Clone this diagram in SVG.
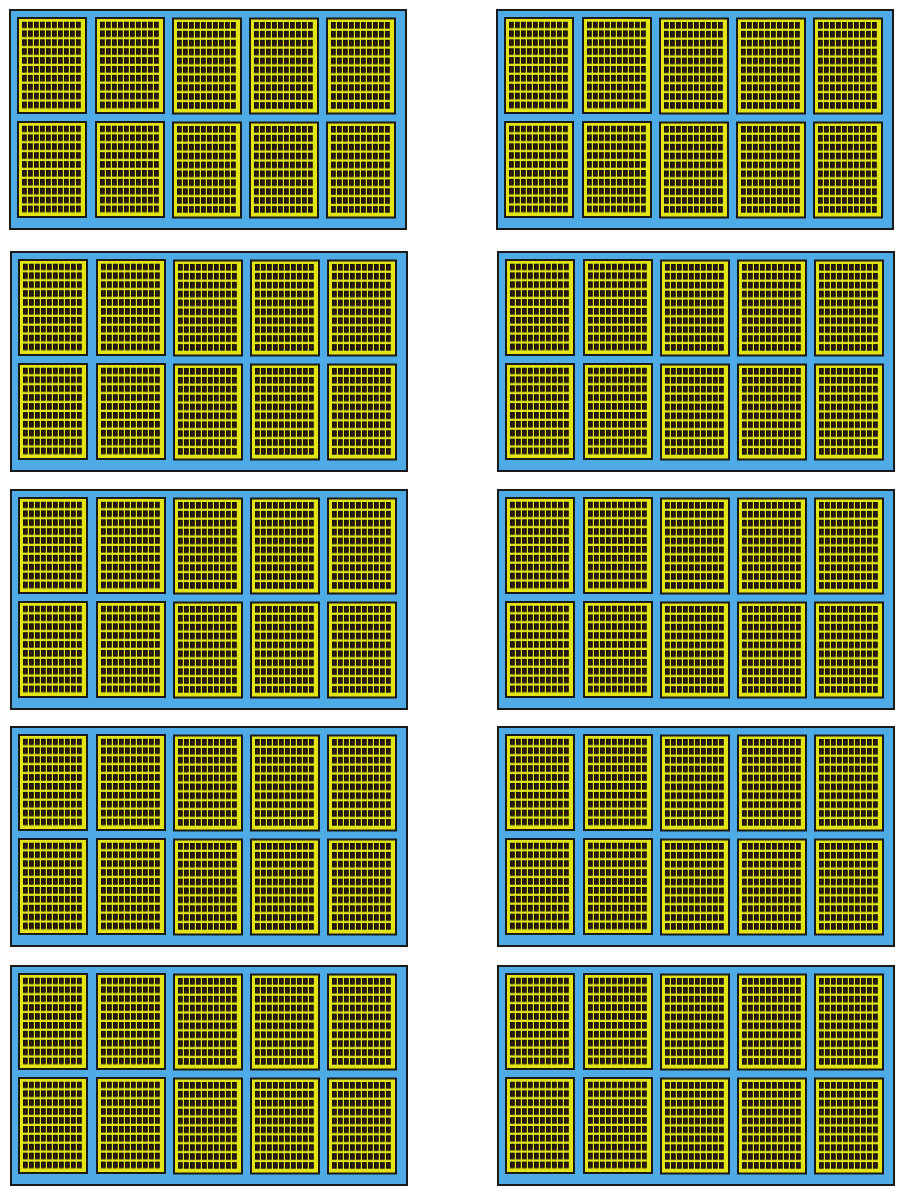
<svg xmlns="http://www.w3.org/2000/svg" xmlns:xlink="http://www.w3.org/1999/xlink" width="905" height="1196" viewBox="0 0 905 1196">
<style>
.panel{fill:#4eabe6;stroke:#1a1a1a;stroke-width:2}
.card{fill:#e3e414;stroke:#1a1a1a;stroke-width:2}
</style>
<defs>
<pattern id="cells" patternUnits="userSpaceOnUse" x="4" y="3.5" width="6" height="8.9">
<rect x="0" y="0" width="4.8" height="6.6" fill="#16140e"/>
<rect x="1.9" y="1.6" width="1" height="3.4" fill="#5a1818"/>
</pattern>
<g id="card">
<rect class="card" x="0" y="0" width="68" height="95"/>
<rect x="4" y="3.5" width="59" height="88" fill="url(#cells)"/>
</g>
<g id="cards">
<use xlink:href="#card" x="8" y="8"/>
<use xlink:href="#card" x="86" y="8"/>
<use xlink:href="#card" x="163" y="8.5"/>
<use xlink:href="#card" x="240" y="8.5"/>
<use xlink:href="#card" x="317" y="8.5"/>
<use xlink:href="#card" x="8" y="112"/>
<use xlink:href="#card" x="86" y="112"/>
<use xlink:href="#card" x="163" y="112.5"/>
<use xlink:href="#card" x="240" y="112.5"/>
<use xlink:href="#card" x="317" y="112.5"/>
</g>
</defs>
<g id="panel-1-left" transform="translate(10,10)"><rect class="panel" x="0" y="0" width="396" height="219"/><use xlink:href="#cards"/></g>
<g id="panel-1-right" transform="translate(497,10)"><rect class="panel" x="0" y="0" width="396" height="219"/><use xlink:href="#cards"/></g>
<g id="panel-2-left" transform="translate(11,252)"><rect class="panel" x="0" y="0" width="396" height="219"/><use xlink:href="#cards"/></g>
<g id="panel-2-right" transform="translate(498,252)"><rect class="panel" x="0" y="0" width="396" height="219"/><use xlink:href="#cards"/></g>
<g id="panel-3-left" transform="translate(11,490)"><rect class="panel" x="0" y="0" width="396" height="219"/><use xlink:href="#cards"/></g>
<g id="panel-3-right" transform="translate(498,490)"><rect class="panel" x="0" y="0" width="396" height="219"/><use xlink:href="#cards"/></g>
<g id="panel-4-left" transform="translate(11,727)"><rect class="panel" x="0" y="0" width="396" height="219"/><use xlink:href="#cards"/></g>
<g id="panel-4-right" transform="translate(498,727)"><rect class="panel" x="0" y="0" width="396" height="219"/><use xlink:href="#cards"/></g>
<g id="panel-5-left" transform="translate(11,966)"><rect class="panel" x="0" y="0" width="396" height="219"/><use xlink:href="#cards"/></g>
<g id="panel-5-right" transform="translate(498,966)"><rect class="panel" x="0" y="0" width="396" height="219"/><use xlink:href="#cards"/></g>
<g id="connectors"/>
</svg>
